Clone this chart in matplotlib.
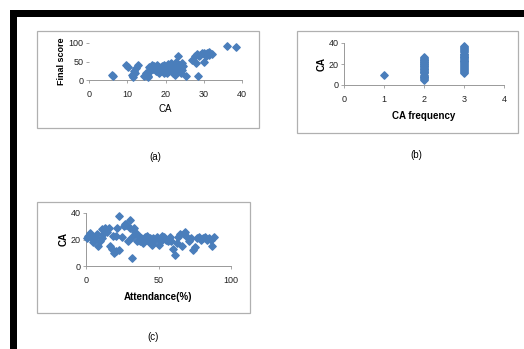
import matplotlib
matplotlib.use('Agg')
import matplotlib.pyplot as plt
from matplotlib.patches import Rectangle

# (a) CA vs Final score
ca_a = [6.3, 6.0, 9.6, 10.1, 11.6, 12.1, 12.4, 11.8, 12.7, 11.3,
        14.4, 14.9, 15.3, 15.8, 15.9, 16.5, 16.8, 17.3, 17.9, 18.4,
        18.8, 19.3, 19.7, 20.0, 20.3, 20.8, 21.2, 21.4, 21.9, 22.3,
        22.8, 23.0, 23.3, 23.6, 24.1, 24.4, 24.7, 25.4, 16.2, 17.0,
        17.6, 18.1, 18.6, 19.0, 19.5, 20.5, 21.0, 21.7, 22.5, 23.8,
        24.2, 16.0, 17.8, 19.9, 21.5, 22.0, 23.2, 20.7, 18.3, 15.5,
        27.0, 27.6, 27.9, 28.2, 28.5, 29.1, 29.6, 30.1, 30.5, 30.8,
        31.3, 31.5, 32.2, 28.8, 30.0, 36.1, 38.4]
score_a = [11, 13, 41, 36, 9, 18, 32, 24, 41, 14,
           11, 18, 9, 36, 23, 41, 29, 35, 27, 36,
           23, 32, 41, 27, 20, 35, 29, 45, 23, 36,
           50, 29, 64, 41, 18, 27, 38, 11, 30, 38,
           24, 33, 28, 38, 20, 30, 25, 40, 14, 32,
           45, 27, 40, 35, 32, 20, 25, 42, 20, 12,
           55, 64, 45, 71, 11, 68, 73, 50, 64, 73,
           77, 68, 71, 66, 72, 91, 89]

# (b) CA frequency vs CA
freq_b = [1] + [2] * 30 + [3] * 30
ca_b = [10,
        5, 6, 7, 8, 9, 10, 11, 12, 13, 14,
        15, 16, 17, 18, 19, 20, 21, 22, 23, 24,
        25, 26, 27, 8, 12, 15, 18, 20, 22, 24,
        11, 12, 14, 15, 16, 18, 19, 20, 21, 22,
        23, 24, 25, 26, 27, 28, 29, 30, 31, 32,
        33, 34, 35, 36, 37, 13, 17, 23, 27, 30]

# (c) Attendance vs CA
att_c = [1.6, 3.4, 4.6, 5.7, 7.3, 8.5, 9.6, 10.8, 11.2, 13.0,
         14.4, 15.8, 16.7, 17.6, 18.5, 19.0, 20.4, 20.8, 21.7, 22.7,
         23.1, 24.5, 25.9, 26.8, 27.9, 29.0, 30.0, 30.4, 31.4, 31.8,
         33.2, 34.1, 35.5, 36.4, 37.3, 38.2, 39.6, 41.0, 41.9, 42.8,
         44.2, 45.5, 46.5, 47.8, 49.2, 50.6, 51.5, 52.4, 53.8, 55.1,
         56.5, 57.9, 58.8, 60.2, 61.6, 62.5, 63.4, 64.8, 66.1, 67.5,
         68.4, 69.8, 71.2, 72.5, 73.9, 75.3, 76.7, 78.0, 79.4, 80.8,
         82.2, 83.5, 84.9, 86.3, 87.2, 88.1, 2.5, 6.5, 12.0, 0.8]
ca_c = [23, 22, 18, 20, 24, 15, 19, 21, 28, 29,
        26, 29, 15, 13, 23, 10, 23, 11, 29, 12,
        38, 22, 30, 32, 31, 19, 29, 35, 6, 22,
        29, 26, 19, 23, 19, 21, 17, 22, 23, 19,
        21, 16, 21, 20, 22, 16, 19, 23, 22, 20,
        19, 22, 19, 13, 8, 17, 22, 24, 15, 24,
        26, 22, 19, 21, 12, 14, 21, 22, 20, 21,
        22, 20, 21, 20, 15, 22, 25, 22, 24, 21]

blue = '#4a7ebb'
W, H = 524, 349

fig = plt.figure(figsize=(5.24, 3.49), dpi=100)
plt.rcParams['font.family'] = ['Liberation Sans', 'DejaVu Sans']


def px_rect(x0, y0, x1, y1):
    # pixel box (top-left origin) -> figure fraction
    return [x0 / W, 1 - y1 / H, (x1 - x0) / W, (y1 - y0) / H]


# black frame, top and left
fig.patches.append(Rectangle((10 / W, 1 - 17 / H), 1, 7 / H, transform=fig.transFigure,
                             facecolor='black', edgecolor='none'))
fig.patches.append(Rectangle((10 / W, 0), 7 / W, 1 - 10 / H, transform=fig.transFigure,
                             facecolor='black', edgecolor='none'))

# chart boxes
for x0, y0, x1, y1 in [(37, 31, 259, 128), (297, 31, 518, 133), (37, 202, 250, 313)]:
    b = px_rect(x0, y0, x1, y1)
    fig.patches.append(Rectangle((b[0], b[1]), b[2], b[3], transform=fig.transFigure,
                                 facecolor='none', edgecolor='#b0b0b0', linewidth=0.9))


def style(ax):
    for s in ['top', 'right']:
        ax.spines[s].set_visible(False)
    for s in ['left', 'bottom']:
        ax.spines[s].set_color('#999999')
        ax.spines[s].set_linewidth(0.7)
    ax.tick_params(labelsize=6.5, length=2, width=0.6, color='#999999', labelcolor='#222222')
    ax.tick_params(axis='x', pad=5)
    ax.tick_params(axis='y', pad=2)
    ax.set_facecolor('none')


ax1 = fig.add_axes(px_rect(89, 43, 242, 80))
ax1.scatter(ca_a, score_a, marker='D', s=14, color=blue, clip_on=False, zorder=3)
ax1.set_xlim(0, 40)
ax1.set_ylim(0, 100)
ax1.set_xticks([0, 10, 20, 30, 40])
ax1.set_yticks([0, 50, 100])
style(ax1)
ax1.spines['left'].set_visible(False)
ax1.set_xlabel('CA', fontsize=7, labelpad=4)
ax1.set_ylabel('Final score', fontsize=6.5, fontweight='bold', labelpad=2)

ax2 = fig.add_axes(px_rect(344, 43, 504, 85))
ax2.scatter(freq_b, ca_b, marker='D', s=14, color=blue, clip_on=False, zorder=3)
ax2.set_xlim(0, 4)
ax2.set_ylim(0, 40)
ax2.set_xticks([0, 1, 2, 3, 4])
ax2.set_yticks([0, 20, 40])
style(ax2)
ax2.set_xlabel('CA frequency', fontsize=7, fontweight='bold', labelpad=5)
ax2.set_ylabel('CA', fontsize=7, fontweight='bold', labelpad=1)

ax3 = fig.add_axes(px_rect(86, 213, 231, 266))
ax3.scatter(att_c, ca_c, marker='D', s=14, color=blue, clip_on=False, zorder=3)
ax3.set_xlim(0, 100)
ax3.set_ylim(0, 40)
ax3.set_xticks([0, 50, 100])
ax3.set_yticks([0, 20, 40])
style(ax3)
ax3.set_xlabel('Attendance(%)', fontsize=7, fontweight='bold', labelpad=5)
ax3.set_ylabel('CA', fontsize=7, fontweight='bold', labelpad=1)

fig.text(155 / W, 1 - 157 / H, '(a)', fontsize=7, ha='center', va='center')
fig.text(416 / W, 1 - 155 / H, '(b)', fontsize=7, ha='center', va='center')
fig.text(153 / W, 1 - 337 / H, '(c)', fontsize=7, ha='center', va='center')

fig.savefig('out.png', dpi=100)
